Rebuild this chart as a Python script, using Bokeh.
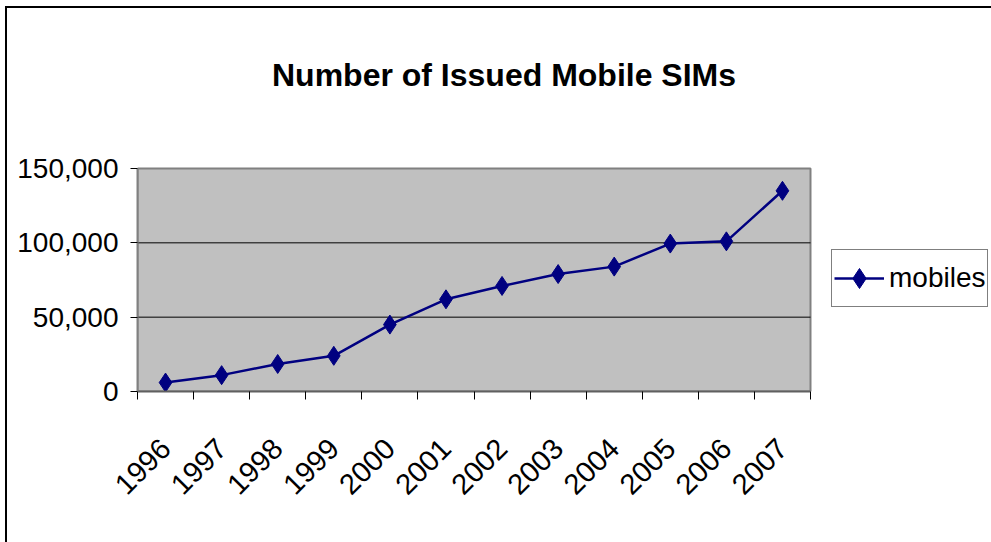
import math
from bokeh.plotting import figure
from bokeh.models import (Range1d, FixedTicker, NumeralTickFormatter, Legend, LegendItem,
                          ColumnDataSource, Label)
from bokeh.embed import file_html
from bokeh.resources import INLINE

years = ["1996", "1997", "1998", "1999", "2000", "2001", "2002",
         "2003", "2004", "2005", "2006", "2007"]
mobiles = [6000, 11000, 18500, 24000, 45000, 62000, 71000,
           79000, 84000, 99500, 101000, 135000]
y_ticks = [0, 50000, 100000, 150000]
title_text = "Number of Issued Mobile SIMs"
series_name = "mobiles"

FONT = "Liberation Sans"
NAVY = "#000080"

W, H = 991, 542
FL, FR, FT, FB = 137, 991, 0, 391      # frame edges on the canvas
PLOT_RIGHT_PX, PLOT_TOP_PX = 810, 168  # edges of the grey plot area

n = len(years)
ymax = y_ticks[-1]
xs = [i + 0.5 for i in range(n)]
src = ColumnDataSource(dict(x=xs, y=mobiles))

x_end = n * (FR - FL) / (PLOT_RIGHT_PX - FL)
y_end = ymax * (FB - FT) / (FB - PLOT_TOP_PX)

p = figure(width=W, height=H, output_backend="svg", toolbar_location=None,
           x_range=Range1d(0, x_end), y_range=Range1d(0, y_end),
           min_border_left=FL, min_border_right=W - FR, min_border_top=FT,
           min_border_bottom=H - FB)
p.background_fill_alpha = 0
p.border_fill_alpha = 0
p.outline_line_color = None
p.xgrid.grid_line_color = None
p.ygrid.grid_line_color = None

# grey plot area and horizontal gridlines
p.quad(left=[0], right=[n], bottom=[0], top=[ymax], fill_color="#C0C0C0",
       line_color="#808080", line_width=2)
p.segment(x0=[0] * len(y_ticks[1:-1]), x1=[n] * len(y_ticks[1:-1]),
          y0=y_ticks[1:-1], y1=y_ticks[1:-1], line_color="black", line_width=1)

# y axis
p.yaxis.bounds = (0, ymax)
p.yaxis.ticker = FixedTicker(ticks=y_ticks)
p.yaxis.formatter = NumeralTickFormatter(format="0,0")
p.yaxis.major_tick_out = 7
p.yaxis.major_tick_in = 0
p.yaxis.minor_tick_out = 0
p.yaxis.minor_tick_in = 0
p.yaxis.major_tick_line_color = "black"
p.yaxis.axis_line_color = "#808080"
p.yaxis.axis_line_width = 2
p.yaxis.major_label_text_font = FONT
p.yaxis.major_label_text_font_size = "28px"
p.yaxis.major_label_text_color = "black"
p.yaxis.major_label_standoff = 12

# x axis: labels at category centres, ticks at boundaries (minor ticks)
p.xaxis.bounds = (0, n)
p.xaxis.ticker = FixedTicker(ticks=xs, minor_ticks=list(range(n + 1)))
p.xaxis.major_label_overrides = {x: y for x, y in zip(xs, years)}
p.xaxis.major_tick_out = 0
p.xaxis.major_tick_in = 0
p.xaxis.minor_tick_out = 8
p.xaxis.minor_tick_in = 0
p.xaxis.minor_tick_line_color = "black"
p.xaxis.axis_line_color = "#606060"
p.xaxis.axis_line_width = 2
p.xaxis.major_label_orientation = math.pi / 4
p.xaxis.major_label_text_font = FONT
p.xaxis.major_label_text_font_size = "29px"
p.xaxis.major_label_text_color = "black"
p.xaxis.major_label_standoff = 44

line = p.line("x", "y", source=src, line_color=NAVY, line_width=2.5)
pts = p.scatter("x", "y", source=src, marker="diamond", size=19,
                fill_color=NAVY, line_color=NAVY)

legend = Legend(items=[LegendItem(label=series_name, renderers=[line, pts])],
                location=(831 - FL, FB - 307), orientation="vertical",
                border_line_color="black", border_line_width=1,
                background_fill_color="white", background_fill_alpha=1,
                label_text_font=FONT, label_text_font_size="28px",
                label_text_color="black",
                glyph_width=50, glyph_height=52, label_height=52,
                label_standoff=5, padding=2, margin=0, spacing=0)
p.add_layout(legend, "center")

title = Label(x=n / 2, y=ymax, x_offset=30, y_offset=94, text=title_text,
              text_align="center", text_baseline="alphabetic", text_font=FONT,
              text_font_size="32px", text_font_style="bold", text_color="black")
p.add_layout(title)

p.styles = {"box-shadow": "inset 5px 6px 0 0 white, inset 7px 8px 0 0 black"}

open("out.html", "w").write(file_html(p, INLINE))
